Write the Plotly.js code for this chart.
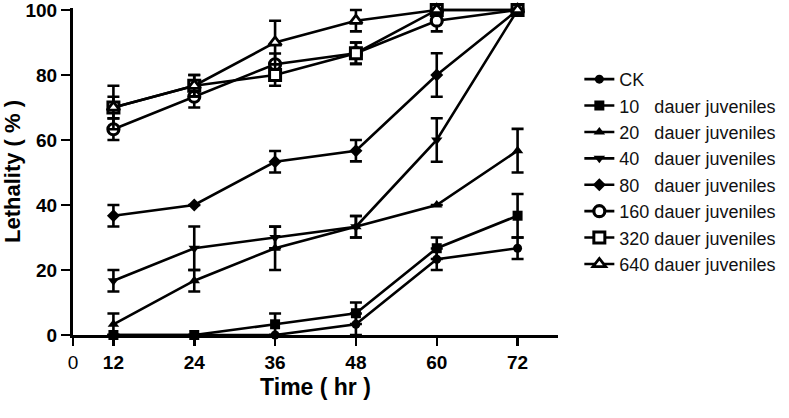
<!DOCTYPE html>
<html>
<head>
<meta charset="utf-8">
<script src="https://cdn.plot.ly/plotly-3.0.1.min.js"></script>
<style>html,body{margin:0;padding:0;background:#fff;}#chart{width:789px;height:418px;}</style>
</head>
<body>
<div id="chart"></div>
<script>
// Time points (hr)
const hours = [12, 24, 36, 48, 60, 72];
// x tick labels (the "0" sits at the axis origin)
const xTickVals = [6, 12, 24, 36, 48, 60, 72];
const xTickText = ["0", "12", "24", "36", "48", "60", "72"];
const yTickVals = [0, 20, 40, 60, 80, 100];

// Series names
const names = ["CK", "10", "20", "40", "80", "160", "320", "640"];

// Lethality (%) values
const ck   = [0, 0, 0, 3.3, 23.3, 26.7];
const s10  = [0, 0, 3.3, 6.7, 26.7, 36.7];
const s20  = [3.3, 16.7, 26.7, 33.3, 40, 56.7];
const s40  = [16.7, 26.7, 30, 33.3, 60, 100];
const s80  = [36.7, 40, 53.3, 56.7, 80, 100];
const s160 = [63.3, 73.3, 83.3, 86.7, 96.7, 100];
const s320 = [70, 76.7, 80, 86.7, 100, 100];
const s640 = [70, 76.7, 90, 96.7, 100, 100];

// Standard errors (%)
const eCk  = [0, 0, 0, 3.3, 3.3, 3.3];
const e10  = [0, 0, 3.3, 3.3, 3.3, 6.7];
const e20  = [3.3, 3.3, 6.7, 3.3, 0, 6.7];
const e40  = [3.3, 6.7, 3.3, 3.3, 6.7, 0];
const e80  = [3.3, 0, 3.3, 3.3, 6.7, 0];
const e160 = [3.3, 3.3, 3.3, 3.3, 3.3, 0];
const e320 = [6.7, 3.3, 3.3, 3.3, 0, 0];
const e640 = [3.3, 3.3, 6.7, 3.3, 0, 0];

const values = [ck, s10, s20, s40, s80, s160, s320, s640];
const errors = [eCk, e10, e20, e40, e80, e160, e320, e640];

const markerStyles = [
  {symbol: "circle", size: 9, color: "#000", line: {width: 0}},
  {symbol: "square", size: 10, color: "#000", line: {width: 0}},
  {symbol: "triangle-up", size: 10, color: "#000", line: {width: 0}},
  {symbol: "triangle-down", size: 10, color: "#000", line: {width: 0}},
  {symbol: "diamond", size: 10, color: "#000", line: {width: 0}},
  {symbol: "circle", size: 11, color: "#fff", line: {width: 3.2, color: "#000"}},
  {symbol: "square", size: 11, color: "#fff", line: {width: 3, color: "#000"}},
  {symbol: "triangle-up", size: 11, color: "#fff", line: {width: 2.8, color: "#000"}}
];

function legendName(n) {
  if (n === "CK") return "CK";
  const pad = n.length < 3 ? "\u2007".repeat(3 - n.length) : "";
  return n + pad + " dauer juveniles";
}

const traces = names.map((n, i) => ({
  type: "scatter",
  mode: "lines+markers",
  name: legendName(n),
  x: hours,
  y: values[i],
  cliponaxis: false,
  line: {color: "#000", width: 2.6},
  marker: markerStyles[i],
  error_y: {
    type: "data",
    array: errors[i].map(v => (v > 0 ? v : null)),
    visible: true,
    color: "#000",
    thickness: 2.6,
    width: 6
  }
}));

const layout = {
  width: 789,
  height: 418,
  paper_bgcolor: "#fff",
  plot_bgcolor: "#fff",
  margin: {l: 73, r: 229, t: 8, b: 83, pad: 0},
  font: {family: "Liberation Sans, Arial, sans-serif", color: "#000"},
  showlegend: true,
  legend: {
    x: 1.044, xanchor: "left",
    y: 0.838, yanchor: "top",
    font: {size: 18, color: "#111"},
    bgcolor: "rgba(0,0,0,0)",
    itemwidth: 30,
    tracegroupgap: 0
  },
  xaxis: {
    range: [6, 78],
    tickmode: "array",
    tickvals: xTickVals,
    ticktext: xTickText.map(t => (t === "0" ? t : "<b>" + t + "</b>")),
    showline: true, linecolor: "#000", linewidth: 3,
    ticks: "outside", ticklen: 8, tickwidth: 2.5, tickcolor: "#000",
    showgrid: false, zeroline: false,
    tickfont: {size: 19, color: "#000"},
    title: {text: "<b>Time ( hr )</b>", font: {size: 23, color: "#000"}, standoff: 8}
  },
  yaxis: {
    range: [0, 100.6],
    tickmode: "array",
    tickvals: yTickVals,
    showline: true, linecolor: "#000", linewidth: 3,
    ticks: "outside", ticklen: 9, tickwidth: 2.5, tickcolor: "#000",
    showgrid: false, zeroline: false,
    ticklabeloverflow: "allow",
    tickfont: {size: 19, color: "#000", weight: "bold"},
    title: {text: "<b>Lethality ( % )</b>", font: {size: 22, color: "#000"}, standoff: 2}
  }
};

Plotly.newPlot("chart", traces, layout, {displayModeBar: false, staticPlot: true});
</script>
</body>
</html>
